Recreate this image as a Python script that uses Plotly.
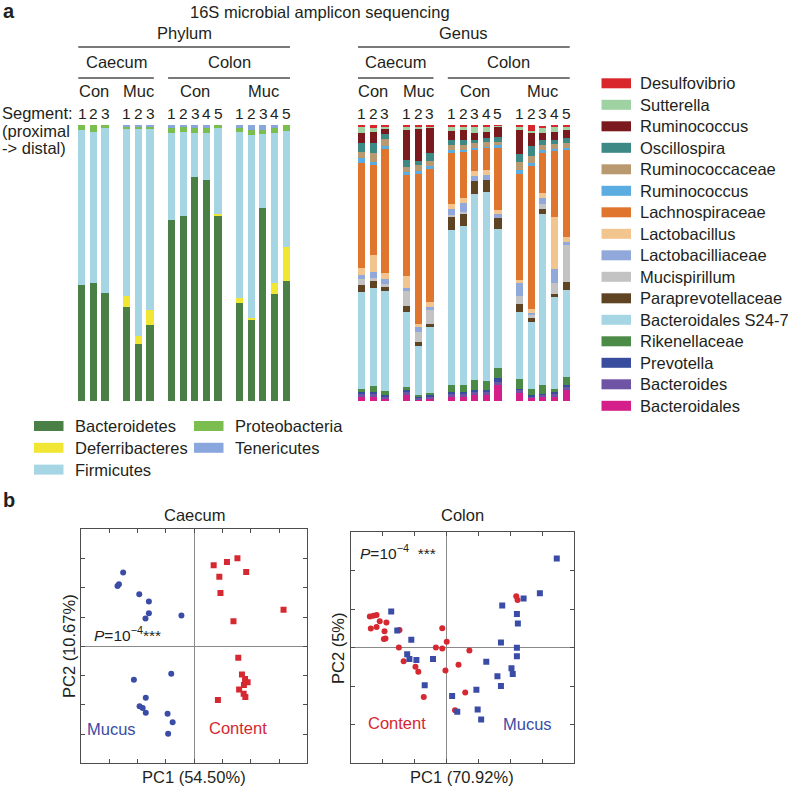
import plotly.graph_objects as go

W, H = 788, 787
FONT = "Liberation Sans, Arial, Helvetica, sans-serif"
INK = "#231f20"

# ---- sample layout (16 bars per panel) ----
SEGMENTS = ["1", "2", "3", "1", "2", "3", "1", "2", "3", "4", "5", "1", "2", "3", "4", "5"]
SITES = [("Caecum", 0, 6), ("Colon", 6, 16)]
FRACTIONS = [("Con", 0, 3), ("Muc", 3, 6), ("Con", 6, 11), ("Muc", 11, 16)]
GROUP_SIZES = [3, 3, 5, 5]
SEGMENT_NOTE = ["Segment:", "(proximal", "-> distal)"]

# ---- phylum relative abundance (%) ----
PHYLA = ["Bacteroidetes", "Deferribacteres", "Firmicutes", "Proteobacteria", "Tenericutes"]
bacteroidetes = [42.2, 42.8, 39.1, 34.0, 20.8, 27.6, 65.7, 67.0, 81.1, 79.9, 67.2, 35.4, 29.7, 69.9, 38.7, 43.3]
deferribacteres = [0, 0, 0, 4.2, 2.9, 5.3, 0, 0, 0, 0, 0.4, 1.8, 0.3, 0, 4.0, 12.6]
firmicutes = [56.0, 54.8, 59.9, 60.4, 74.9, 65.7, 31.5, 30.3, 16.1, 17.3, 31.4, 60.4, 66.4, 26.7, 54.5, 42.1]
proteobacteria = [1.8, 2.4, 1.0, 1.0, 1.0, 1.0, 1.8, 2.0, 1.8, 1.8, 1.0, 1.4, 1.8, 1.6, 1.6, 2.0]
tenericutes = [0, 0, 0, 0.4, 0.4, 0.4, 1.0, 0.7, 1.0, 1.0, 0, 1.0, 1.8, 1.8, 1.2, 0]
PHYLUM_COLORS = ["#4a7f45", "#f2e634", "#a6d6e3", "#7cbd4f", "#89a7dc"]

# ---- genus relative abundance (%), listed bottom of stack first ----
bacteroidales = [1.5, 1.6, 1.0, 2.2, 0.6, 1.0, 1.6, 1.6, 2.2, 2.2, 5.8, 2.8, 1.2, 1.6, 1.6, 4.0]
bacteroides = [1.2, 1.2, 0.6, 1.2, 0.6, 0.6, 1.2, 1.2, 1.2, 1.2, 1.2, 1.2, 0.6, 0.6, 1.2, 1.0]
prevotella = [0.6, 0.5, 0.4, 0.5, 0.4, 0.4, 0.6, 0.6, 0.6, 0.6, 1.2, 0.5, 0.5, 0.5, 0.5, 0.8]
rikenellaceae = [1.2, 2.2, 1.8, 1.2, 0.6, 1.0, 2.4, 2.4, 3.6, 3.4, 3.6, 3.4, 2.0, 3.0, 1.2, 3.0]
s24_7 = [35.0, 35.5, 36.0, 27.2, 17.9, 23.8, 56.2, 57.5, 67.4, 68.2, 50.7, 24.2, 24.2, 62.0, 33.2, 31.4]
paraprevotellaceae = [2.7, 2.4, 1.5, 2.2, 1.2, 1.2, 4.8, 4.8, 4.8, 4.6, 3.9, 3.0, 1.5, 1.8, 1.2, 3.0]
mucispirillum = [2.0, 1.0, 1.0, 5.5, 3.6, 4.8, 0.5, 0.5, 0.0, 0.0, 0.0, 3.0, 1.0, 1.8, 4.0, 13.3]
lactobacilliaceae = [1.5, 2.5, 2.0, 0.8, 1.8, 1.4, 2.4, 3.0, 1.8, 1.8, 1.2, 4.5, 1.0, 2.4, 5.1, 1.2]
lactobacillus = [2.5, 6.0, 2.0, 4.5, 1.2, 1.6, 1.8, 1.8, 1.8, 1.8, 1.6, 1.2, 1.2, 1.8, 18.5, 1.8]
lachnospiraceae = [38.0, 32.6, 45.0, 36.6, 54.3, 48.2, 18.7, 16.9, 7.9, 7.9, 22.6, 38.6, 51.9, 14.5, 24.3, 31.5]
ruminococcus_b = [1.8, 1.2, 1.2, 1.2, 1.2, 1.0, 0.6, 0.6, 0.5, 0.5, 1.0, 1.2, 1.2, 1.0, 0.6, 0.6]
ruminococcaceae = [2.4, 3.0, 2.4, 1.8, 2.0, 2.0, 1.8, 1.8, 1.8, 1.8, 1.2, 3.0, 2.4, 1.8, 1.8, 1.8]
oscillospira = [3.0, 3.6, 1.8, 2.4, 1.6, 3.0, 1.8, 2.0, 1.0, 1.2, 1.8, 3.0, 3.6, 1.8, 1.2, 1.8]
ruminococcus_r = [3.6, 4.0, 2.0, 10.9, 11.8, 9.0, 3.6, 3.4, 2.4, 2.4, 3.6, 8.5, 5.1, 2.4, 3.0, 3.0]
sutterella = [2.3, 1.5, 0.5, 1.0, 0.6, 0.4, 1.5, 1.5, 2.6, 2.0, 0.4, 1.0, 0.6, 2.0, 2.0, 1.2]
desulfovibrio = [0.8, 1.2, 0.8, 0.8, 0.6, 0.6, 0.5, 0.4, 0.4, 0.4, 0.4, 1.0, 2.0, 0.6, 0.6, 0.6]

GENERA = [
    ("Bacteroidales", bacteroidales, "#d41f8a"),
    ("Bacteroides", bacteroides, "#6f53a4"),
    ("Prevotella", prevotella, "#394d9f"),
    ("Rikenellaceae", rikenellaceae, "#4b8a47"),
    ("Bacteroidales S24-7", s24_7, "#a6d6e3"),
    ("Paraprevotellaceae", paraprevotellaceae, "#5f4424"),
    ("Mucispirillum", mucispirillum, "#c3c3c3"),
    ("Lactobacilliaceae", lactobacilliaceae, "#91a9da"),
    ("Lactobacillus", lactobacillus, "#f2c58f"),
    ("Lachnospiraceae", lachnospiraceae, "#e0752e"),
    ("Ruminococcus", ruminococcus_b, "#5aace1"),
    ("Ruminococcaceae", ruminococcaceae, "#b99a70"),
    ("Oscillospira", oscillospira, "#3d8985"),
    ("Ruminococcus", ruminococcus_r, "#7a1a1f"),
    ("Sutterella", sutterella, "#9ed2a2"),
    ("Desulfovibrio", desulfovibrio, "#d8262c"),
]

# ---- PCA scores ----
caecum_mucus_pc1 = [-2.51, -2.66, -2.71, -1.94, -1.60, -1.60, -1.72, -0.45,
                    -2.13, -0.81, -1.71, -1.93, -1.82, -1.71, -0.94, -0.76, -0.92]
caecum_mucus_pc2 = [2.52, 2.12, 2.06, 1.78, 1.53, 1.13, 0.95, 1.05,
                    -1.14, -0.94, -1.76, -2.05, -2.11, -2.27, -2.31, -2.60, -2.99]
caecum_content_pc1 = [0.69, 1.16, 1.53, 1.84, 0.89, 0.93, 1.39, 3.16,
                      1.56, 1.69, 1.80, 1.89, 1.76, 1.59, 1.75, 1.81, 0.84]
caecum_content_pc2 = [2.77, 2.88, 3.01, 2.54, 2.38, 1.82, 0.86, 1.25,
                      -0.39, -0.96, -1.12, -1.23, -1.32, -1.48, -1.62, -1.73, -1.84]

colon_content_pc1 = [-2.40, -2.29, -2.19, -2.09, -2.37, -2.19, -1.94, -1.88, -1.96, -1.91,
                     -1.47, -1.49, -1.34, -0.97, -0.88, -0.71, -0.13, -0.33, -0.13, 0.01,
                     -0.03, 0.72, 0.38, 0.59, 0.27, 2.19, 2.23]
colon_content_pc2 = [0.81, 0.83, 0.85, 0.69, 0.50, 0.54, 0.43, 0.66, 0.23, 0.24,
                     0.46, 0.01, -0.35, -0.49, -0.62, -1.28, 0.51, 0.01, -0.02, 0.16,
                     -0.59, -0.07, -0.44, -1.16, -1.62, 1.34, 1.24]
colon_mucus_pc1 = [-1.73, -1.54, -1.10, -1.23, -1.16, -0.94, -0.42, -0.68, 0.18, 0.34,
                   0.94, 0.98, 1.09, 1.25, 1.60, 1.71, 2.04, 2.08, 2.21, 2.21,
                   1.71, 1.75, 2.21, 2.24, 2.42, 2.93, 3.46]
colon_mucus_pc2 = [0.94, 0.45, 0.21, -0.17, -0.29, -0.32, -0.29, -0.97, -1.25, -1.66,
                   -1.09, -1.60, -1.86, -0.36, -0.74, -0.99, -0.53, -0.68, 0.00, -0.22,
                   0.14, 1.10, 0.88, 0.63, 1.28, 1.42, 2.32]

RED = "#d62830"
BLUE = "#3a4ca6"
FS = 16.5


def fx(p):
    return p / W


def fy(p):
    return 1 - p / H


positions = []
k = 0
for g, n in enumerate(GROUP_SIZES):
    for i in range(n):
        positions.append(k + 0.87 * g)
        k += 1

fig = go.Figure()

for name, vals, col in zip(PHYLA, [bacteroidetes, deferribacteres, firmicutes, proteobacteria, tenericutes],
                           PHYLUM_COLORS):
    fig.add_trace(go.Bar(x=positions, y=vals, name=name, width=0.62,
                         marker=dict(color=col, line_width=0),
                         xaxis="x", yaxis="y", showlegend=False))

for name, vals, col in GENERA:
    fig.add_trace(go.Bar(x=positions, y=vals, name=name, width=0.62,
                         marker=dict(color=col, line_width=0),
                         xaxis="x2", yaxis="y2", showlegend=False))

fig.add_trace(go.Scatter(x=caecum_mucus_pc1, y=caecum_mucus_pc2, mode="markers", name="Mucus",
                         marker=dict(color=BLUE, size=6, symbol="circle"),
                         xaxis="x3", yaxis="y3", showlegend=False))
fig.add_trace(go.Scatter(x=caecum_content_pc1, y=caecum_content_pc2, mode="markers", name="Content",
                         marker=dict(color=RED, size=6, symbol="square"),
                         xaxis="x3", yaxis="y3", showlegend=False))
fig.add_trace(go.Scatter(x=colon_content_pc1, y=colon_content_pc2, mode="markers", name="Content",
                         marker=dict(color=RED, size=6, symbol="circle"),
                         xaxis="x4", yaxis="y4", showlegend=False))
fig.add_trace(go.Scatter(x=colon_mucus_pc1, y=colon_mucus_pc2, mode="markers", name="Mucus",
                         marker=dict(color=BLUE, size=6, symbol="square"),
                         xaxis="x4", yaxis="y4", showlegend=False))

bar_x = dict(range=[-0.5, positions[-1] + 0.5], visible=False, fixedrange=True)
bar_y = dict(range=[0, 100], visible=False, domain=[fy(401), fy(125)])
pca_ax = dict(showline=True, linecolor="#4d4d4d", linewidth=1, mirror="ticks",
              ticks="inside", ticklen=4, tickcolor="#4d4d4d", dtick=1, tick0=0,
              showticklabels=False, showgrid=False, zeroline=True,
              zerolinecolor="#8a8a8a", zerolinewidth=1)

annotations = []
shapes = []


def text(t, x, y, size=FS, xref="paper", yref="paper", xanchor="center", yanchor="middle",
         color=INK, **kw):
    annotations.append(dict(text=t, x=x, y=y, xref=xref, yref=yref, xanchor=xanchor,
                            yanchor=yanchor, showarrow=False,
                            font=dict(family=FONT, size=size, color=color), **kw))


def rule(xref, i0, i1, y):
    shapes.append(dict(type="line", xref=xref, yref="paper",
                       x0=positions[i0] - 0.32, x1=positions[i1 - 1] + 0.32,
                       y0=fy(y), y1=fy(y), line=dict(color="#4d4d4d", width=1.5)))


text("<b>a</b>", fx(1), fy(11), size=20, xanchor="left")
text("<b>b</b>", fx(1), fy(500), size=20, xanchor="left")
text("16S microbial amplicon sequencing", fx(320), fy(12))

for xref, head in [("x", "Phylum"), ("x2", "Genus")]:
    text(head, (positions[0] + positions[-1]) / 2, fy(33), xref=xref)
    rule(xref, 0, 16, 47)
    for site, i0, i1 in SITES:
        text(site, (positions[i0] + positions[i1 - 1]) / 2, fy(62), xref=xref)
        rule(xref, i0, i1, 78)
    for frac, i0, i1 in FRACTIONS:
        text(frac, (positions[i0] + positions[i1 - 1]) / 2, fy(91), xref=xref)
    for p, s in zip(positions, SEGMENTS):
        text(s, p, fy(113), size=15.5, xref=xref)

for r, line in enumerate(SEGMENT_NOTE):
    text(line, fx(0), fy(113 + 17.6 * r), xanchor="left")

# phylum legend (two columns)
for i, (name, col) in enumerate(zip(PHYLA, PHYLUM_COLORS)):
    c, r = i // 3, i % 3
    x0 = 34 + 160 * c
    yc = 426 + 21.8 * r
    shapes.append(dict(type="rect", xref="paper", yref="paper", x0=fx(x0), x1=fx(x0 + 29.5),
                       y0=fy(yc + 5), y1=fy(yc - 5), fillcolor=col, line_width=0))
    text(name, fx(x0 + 38.5), fy(yc), xanchor="left")

# genus legend, top of stack first
for r, (name, vals, col) in enumerate(GENERA[::-1]):
    yc = 83.3 + 21.5 * r
    shapes.append(dict(type="rect", xref="paper", yref="paper", x0=fx(601.5), x1=fx(631),
                       y0=fy(yc + 5), y1=fy(yc - 5), fillcolor=col, line_width=0))
    text(name, fx(638), fy(yc), xanchor="left")

# PCA panels
text("Caecum", fx(194), fy(515))
text("PC1 (54.50%)", fx(194), fy(777))
text("PC2 (10.67%)", fx(69), fy(646), textangle=-90)
text("<i>P</i>=10<sup>\u22124</sup>***", -3.62, 0.42, size=15.5, xref="x3", yref="y3", xanchor="left")
text("Mucus", -3.85, -2.84, xref="x3", yref="y3", xanchor="left", color=BLUE)
text("Content", 0.47, -2.78, xref="x3", yref="y3", xanchor="left", color=RED)

text("Colon", fx(462), fy(515))
text("PC1 (70.92%)", fx(462), fy(777))
text("PC2 (5%)", fx(338), fy(648), textangle=-90)
text("<i>P</i>=10<sup>\u22124</sup>  ***", -2.76, 2.49, size=15.5, xref="x4", yref="y4", xanchor="left")
text("Content", -2.52, -1.96, xref="x4", yref="y4", xanchor="left", color=RED)
text("Mucus", 1.72, -1.99, xref="x4", yref="y4", xanchor="left", color=BLUE)

fig.update_layout(
    width=W, height=H,
    margin=dict(l=0, r=0, t=0, b=0),
    paper_bgcolor="white", plot_bgcolor="white",
    barmode="stack", bargap=0,
    font=dict(family=FONT, size=FS, color=INK),
    xaxis=dict(bar_x, domain=[fx(76.2), fx(292.1)], anchor="y"),
    yaxis=dict(bar_y, anchor="x"),
    xaxis2=dict(bar_x, domain=[fx(355.9), fx(571.8)], anchor="y2"),
    yaxis2=dict(bar_y, anchor="x2"),
    xaxis3=dict(pca_ax, domain=[fx(81), fx(307.3)], range=[-4, 4], anchor="y3"),
    yaxis3=dict(pca_ax, domain=[fy(763.3), fy(529.3)], range=[-4, 4], anchor="x3"),
    xaxis4=dict(pca_ax, domain=[fx(350.7), fx(574)], range=[-3, 4], anchor="y4"),
    yaxis4=dict(pca_ax, domain=[fy(763.3), fy(532.3)], range=[-3, 3], anchor="x4"),
    annotations=annotations,
    shapes=shapes,
)

# the page body has a default 8px margin; drop it so the figure fills the window
fig.write_html("out.html", config={"displayModeBar": False},
               post_script="document.body.style.margin='0';")
